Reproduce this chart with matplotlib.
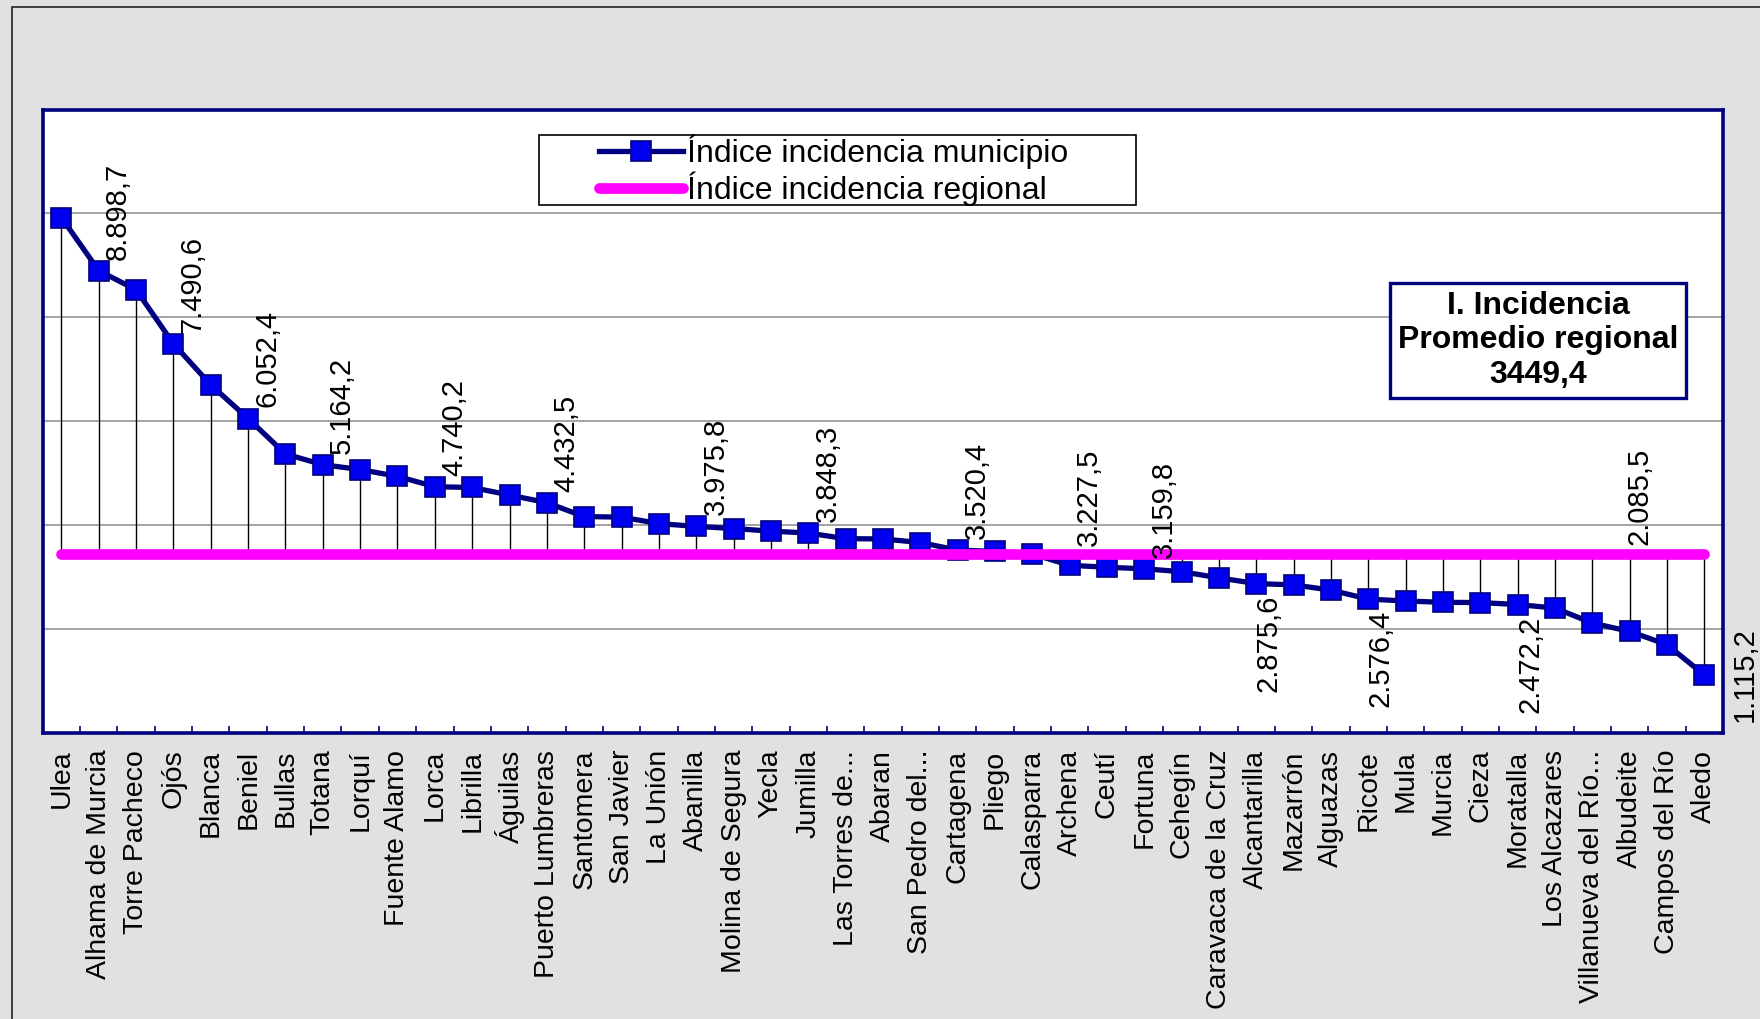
import matplotlib
matplotlib.use("Agg")
import matplotlib.pyplot as plt
from matplotlib.patches import Rectangle
import numpy as np

plt.rcParams['font.family'] = ['Liberation Sans', 'DejaVu Sans']

municipios = ["Ulea", "Alhama de Murcia", "Torre Pacheco", "Ojós", "Blanca", "Beniel",
              "Bullas", "Totana", "Lorquí", "Fuente Alamo", "Lorca", "Librilla", "Águilas",
              "Puerto Lumbreras", "Santomera", "San Javier", "La Unión", "Abanilla",
              "Molina de Segura", "Yecla", "Jumilla", "Las Torres de...", "Abaran",
              "San Pedro del...", "Cartagena", "Pliego", "Calasparra", "Archena", "Ceutí",
              "Fortuna", "Cehegín", "Caravaca de la Cruz", "Alcantarilla", "Mazarrón",
              "Alguazas", "Ricote", "Mula", "Murcia", "Cieza", "Moratalla", "Los Alcazares",
              "Villanueva del Río...", "Albudeite", "Campos del Río", "Aledo"]

indice_municipio = [9920, 8898.7, 8530, 7490.6, 6700, 6052.4,
                    5370, 5164.2, 5070, 4940, 4740.2, 4725, 4580,
                    4432.5, 4165, 4155, 4030, 3975.8,
                    3935, 3885, 3848.3, 3740, 3735,
                    3665, 3520.4, 3495, 3445, 3227.5, 3190,
                    3159.8, 3105, 2985, 2875.6, 2850,
                    2750, 2576.4, 2540, 2515, 2510, 2472.2, 2404,
                    2115, 1955, 1700, 1115.2]

indice_regional = 3449.4

# data labels shown in the chart: (index, text, placement)
etiquetas_idx = [1, 3, 5, 7, 10, 13, 17, 20, 24, 27, 29, 32, 35, 39, 42, 44]
etiquetas_txt = ["8.898,7", "7.490,6", "6.052,4", "5.164,2", "4.740,2", "4.432,5",
                 "3.975,8", "3.848,3", "3.520,4", "3.227,5", "3.159,8", "2.875,6",
                 "2.576,4", "2.472,2", "2.085,5", "1.115,2"]
etiquetas_pos = ["above"] * 11 + ["below", "below", "below", "ref", "right"]

navy = "#000080"
blue = "#0000F0"
magenta = "#FF00FF"

fig = plt.figure(figsize=(17.6, 10.19), dpi=100)
fig.patch.set_facecolor("#E1E1E3")
fig.patches.append(Rectangle((12 / 1760, -0.1), 1.2, 1.1 - 7 / 1019,
                             transform=fig.transFigure, fill=False,
                             edgecolor="#222222", linewidth=1.2))

ax = fig.add_axes([0.0243, 0.2807, 0.979 - 0.0243, 0.8925 - 0.2807])
ax.set_facecolor("white")

x = np.arange(len(municipios))
y = np.array(indice_municipio)

# high-low lines between both series
ax.vlines(x, np.minimum(y, indice_regional), np.maximum(y, indice_regional),
          colors="black", linewidth=1.0, zorder=2)

ax.plot(x, y, color=navy, linewidth=3.8, marker="s", markersize=14,
        markerfacecolor=blue, markeredgecolor=navy, markeredgewidth=1.2,
        zorder=3, label="Índice incidencia municipio")
ax.plot(x, [indice_regional] * len(x), color=magenta, linewidth=7.7,
        solid_capstyle="round", zorder=4, label="Índice incidencia regional")

fs_lab = 21
for i, txt, pos in zip(etiquetas_idx, etiquetas_txt, etiquetas_pos):
    if pos == "above":
        off = (14, 14) if i == 27 else (14, 8)
        ax.annotate(txt, (x[i], y[i]), xytext=off, textcoords="offset points",
                    rotation=90, ha="center", va="bottom", fontsize=fs_lab, zorder=4.5)
    elif pos == "below":
        ax.annotate(txt, (x[i], y[i]), xytext=(9, -8), textcoords="offset points",
                    rotation=90, ha="center", va="top", fontsize=fs_lab, zorder=2.5)
    elif pos == "ref":
        ax.annotate(txt, (x[i], indice_regional), xytext=(7, 6), textcoords="offset points",
                    rotation=90, ha="center", va="bottom", fontsize=fs_lab, zorder=4.5)
    else:
        ax.annotate(txt, (x[i], y[i]), xytext=(19, 0), textcoords="offset points",
                    rotation=90, ha="left", va="center", fontsize=fs_lab, zorder=4.5,
                    annotation_clip=False)

ax.set_xlim(-0.5, len(x) - 0.5)
ax.set_ylim(0, 12000)
ax.set_yticks(np.arange(2000, 12001, 2000))
ax.yaxis.grid(True, color="#8A8A8A", linewidth=1.1, zorder=0)
ax.set_axisbelow(True)
ax.tick_params(axis="y", length=0, labelleft=False)

ax.set_xticks(x)
ax.set_xticklabels(municipios, rotation=90, fontsize=20.5)
ax.set_xticks(np.arange(-0.5, len(x), 1), minor=True)
ax.tick_params(axis="x", which="major", length=0, pad=12)
ax.tick_params(axis="x", which="minor", direction="in", length=5, width=1.2, color=navy)

for s in ax.spines.values():
    s.set_color(navy)
    s.set_linewidth(2.6)

# legend box drawn separately, entries placed inside it
ax.add_patch(Rectangle((0.2954, 0.847), 0.6507 - 0.2954, 0.959 - 0.847,
                       transform=ax.transAxes, facecolor="white", edgecolor="black",
                       linewidth=1.2, zorder=5))
leg = ax.legend(loc="center left", bbox_to_anchor=(0.331, 0.903), fontsize=23,
                frameon=False, handlelength=2.63, handletextpad=0.12, labelspacing=0.08,
                borderpad=0, borderaxespad=0)
leg.set_zorder(6)

ax.text(0.890, 0.630, "I. Incidencia\nPromedio regional\n3449,4", transform=ax.transAxes,
        ha="center", va="center", fontsize=23, fontweight="bold", linespacing=1.2,
        bbox=dict(boxstyle="square,pad=0.25", facecolor="white", edgecolor=navy,
                  linewidth=2.4), zorder=6)

fig.savefig("out.png", dpi=100, facecolor=fig.get_facecolor())
